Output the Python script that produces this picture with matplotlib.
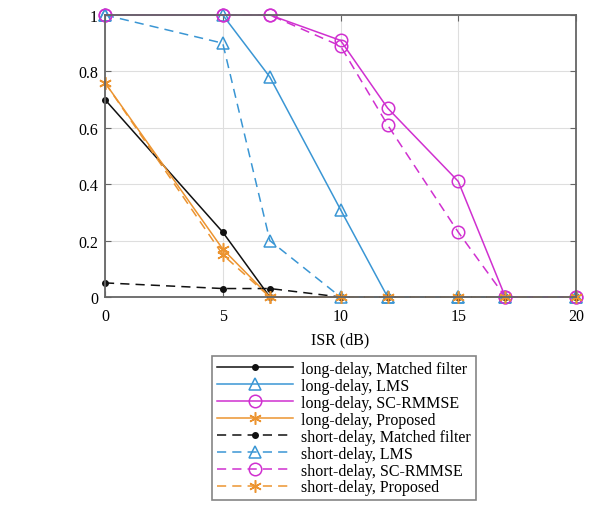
import matplotlib
matplotlib.use("Agg")
import matplotlib.pyplot as plt
from matplotlib.ticker import FuncFormatter

isr = [0, 5, 7, 10, 12, 15, 17, 20]
long_mf = [0.70, 0.23, 0.0, 0, 0, 0, 0, 0]
long_lms = [1.0, 1.0, 0.78, 0.31, 0, 0, 0, 0]
long_sc = [1.0, 1.0, 1.0, 0.91, 0.67, 0.41, 0, 0]
long_prop = [0.76, 0.17, 0.0, 0, 0, 0, 0, 0]
short_mf = [0.05, 0.03, 0.03, 0, 0, 0, 0, 0]
short_lms = [1.0, 0.90, 0.20, 0, 0, 0, 0, 0]
short_sc = [1.0, 1.0, 1.0, 0.89, 0.61, 0.23, 0, 0]
short_prop = [0.76, 0.15, 0.0, 0, 0, 0, 0, 0]

labels = ["long-delay, Matched filter", "long-delay, LMS", "long-delay, SC-RMMSE",
          "long-delay, Proposed", "short-delay, Matched filter", "short-delay, LMS",
          "short-delay, SC-RMMSE", "short-delay, Proposed"]

plt.rcParams['font.family'] = ['Liberation Serif', 'DejaVu Serif']

c_k = '#111111'
c_b = '#3a96d4'
c_m = '#d030d0'
c_o = '#ec9430'

fig = plt.figure(figsize=(5.9, 5.1), dpi=100)
ax = fig.add_axes([105/590, 1 - 298/510, (576-105)/590, (298-16)/510])

dash = (0, (6, 4))
series = [
    (long_mf, c_k, '-', '.', 8, labels[0]),
    (long_lms, c_b, '-', '^', 9, labels[1]),
    (long_sc, c_m, '-', 'o', 9, labels[2]),
    (long_prop, c_o, '-', '*', 9, labels[3]),
    (short_mf, c_k, dash, '.', 8, labels[4]),
    (short_lms, c_b, dash, '^', 9, labels[5]),
    (short_sc, c_m, dash, 'o', 9, labels[6]),
    (short_prop, c_o, dash, '*', 9, labels[7]),
]
handles = []
for y, c, ls, mk, ms, lab in series:
    if mk == '*':
        h, = ax.plot(isr, y, color=c, ls=ls, lw=1.1, marker=(6, 2, 0), ms=ms,
                     mec=c, mfc='none', mew=1.1, label=lab, clip_on=False)
    elif mk == '.':
        h, = ax.plot(isr, y, color=c, ls=ls, lw=1.1, marker='o', ms=4,
                     mec=c, mfc=c, label=lab, clip_on=False)
    else:
        h, = ax.plot(isr, y, color=c, ls=ls, lw=1.1, marker=mk, ms=ms,
                     mec=c, mfc='none', mew=1.1, label=lab, clip_on=False)
    handles.append(h)

ax.set_xlim(0, 20)
ax.set_ylim(0, 1)
ax.set_xticks([0, 5, 10, 15, 20])
ax.set_yticks([0, 0.2, 0.4, 0.6, 0.8, 1.0])
ax.yaxis.set_major_formatter(FuncFormatter(lambda v, p: f"{v:g}"))
ax.grid(True, color='#dedede', lw=0.8)
ax.set_axisbelow(True)
for s in ax.spines.values():
    s.set_color('#666666')
    s.set_linewidth(1.3)
ax.tick_params(direction='in', length=4, color='#666666', labelsize=11.5,
               top=True, right=True)
ax.tick_params(axis='x', pad=8)
ax.tick_params(axis='y', pad=5)
ax.set_xlabel('ISR (dB)', fontsize=11.5, labelpad=5)

leg = fig.legend(handles=handles, loc='upper left', bbox_to_anchor=(212/590, 1 - 357/510),
                 fontsize=11.5, frameon=True, fancybox=False, edgecolor='#666666',
                 handlelength=4.8, handletextpad=0.5, labelspacing=0.06,
                 borderpad=0.3, borderaxespad=0)
leg.get_frame().set_linewidth(1.2)

fig.savefig('out.png', dpi=100)
